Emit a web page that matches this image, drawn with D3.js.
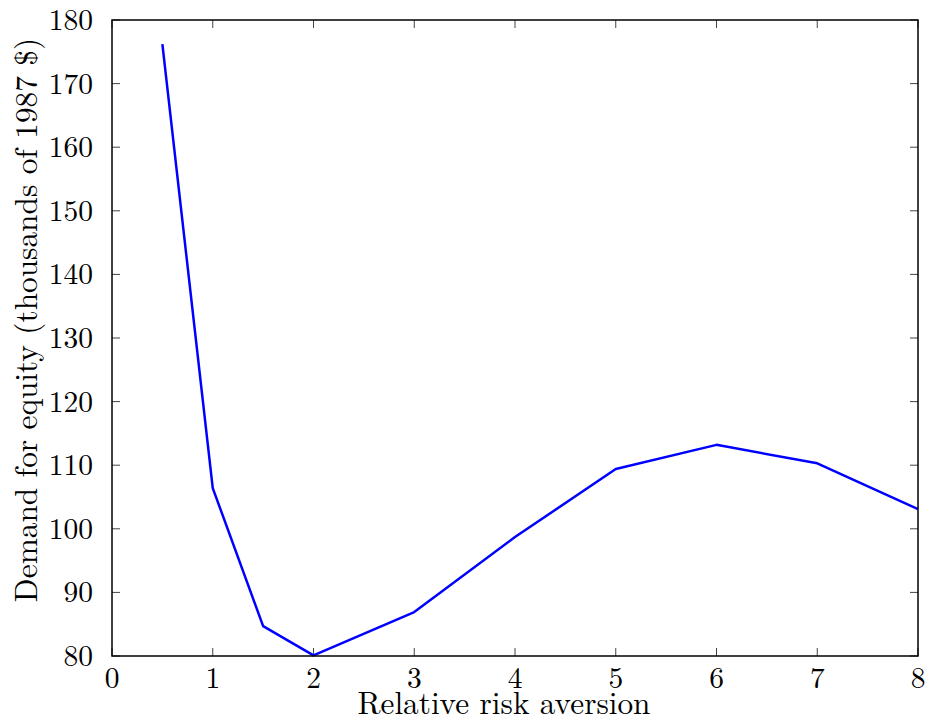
<!DOCTYPE html>
<html>
<head>
<meta charset="utf-8">
<script src="https://cdn.jsdelivr.net/npm/d3@7"></script>
<style>
html,body{margin:0;padding:0;background:#fff;}
</style>
</head>
<body>
<svg id="chart" width="927" height="723"></svg>
<script>
const riskAversion = [0.5, 1, 1.5, 2, 3, 4, 5, 6, 7, 8];
const equityDemand = [176.2, 106.4, 84.7, 80.1, 86.9, 98.7, 109.4, 113.2, 110.3, 103.1];
const xTicks = [0, 1, 2, 3, 4, 5, 6, 7, 8];
const yTicks = [80, 90, 100, 110, 120, 130, 140, 150, 160, 170, 180];
const xLabel = "Relative risk aversion";
const yLabel = "Demand for equity (thousands of 1987 $)";

const FONT = "'Latin Modern Roman', 'CMU Serif', 'Liberation Serif', serif";
const svg = d3.select("#chart");
const L = 112, R = 918, T = 20, B = 656;
const x = d3.scaleLinear().domain([0, 8]).range([L, R]);
const y = d3.scaleLinear().domain([80, 180]).range([B, T]);
const tickLen = 8;

// inward ticks on all sides
const tg = svg.append("g").attr("stroke", "#444").attr("stroke-width", 1);
xTicks.forEach(t => {
  tg.append("line").attr("x1", x(t)).attr("x2", x(t)).attr("y1", B).attr("y2", B - tickLen);
  tg.append("line").attr("x1", x(t)).attr("x2", x(t)).attr("y1", T).attr("y2", T + tickLen);
});
yTicks.forEach(t => {
  tg.append("line").attr("y1", y(t)).attr("y2", y(t)).attr("x1", L).attr("x2", L + tickLen);
  tg.append("line").attr("y1", y(t)).attr("y2", y(t)).attr("x1", R).attr("x2", R - tickLen);
});

// tick labels
svg.append("g").selectAll("text").data(xTicks).join("text")
  .attr("x", d => x(d)).attr("y", 688)
  .style("font-family", FONT).style("font-size", "29.5px")
  .attr("text-anchor", "middle")
  .text(d => d);
svg.append("g").selectAll("text").data(yTicks).join("text")
  .attr("x", 93).attr("y", d => y(d) + 10)
  .style("font-family", FONT).style("font-size", "29.5px")
  .attr("text-anchor", "end")
  .text(d => d);

// data line
const line = d3.line().x((d, i) => x(riskAversion[i])).y(d => y(d));
svg.append("path").datum(equityDemand)
  .attr("d", line).attr("fill", "none")
  .attr("stroke", "#0000ff").attr("stroke-width", 2.5)
  .attr("stroke-linejoin", "round");

// frame
svg.append("rect").attr("x", L).attr("y", T).attr("width", R - L).attr("height", B - T)
  .attr("fill", "none").attr("stroke", "#000").attr("stroke-width", 1.5);

// axis labels
svg.append("text").attr("x", 504).attr("y", 714)
  .style("font-family", FONT).style("font-size", "31.3px")
  .attr("text-anchor", "middle")
  .text(xLabel);
svg.append("text")
  .attr("transform", "translate(37,320) rotate(-90)")
  .style("font-family", FONT).style("font-size", "31.3px")
  .attr("text-anchor", "middle")
  .text(yLabel);
</script>
</body>
</html>
